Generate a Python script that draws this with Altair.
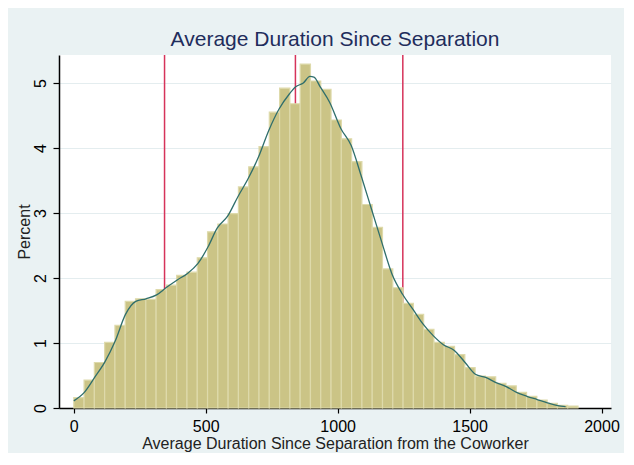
import altair as alt
import pandas as pd

# ---- data ----
bin_width = 39
bar_pct = [0.16, 0.43, 0.70, 1.01, 1.27, 1.64, 1.68, 1.67, 1.82, 1.89,
           2.04, 2.09, 2.31, 2.71, 2.83, 2.99, 3.40, 3.71, 4.02, 4.55,
           4.92, 4.68, 5.29, 5.03, 4.90, 4.43, 4.14, 3.79, 3.13, 2.78,
           2.14, 1.85, 1.61, 1.44, 1.21, 1.01, 0.95, 0.82, 0.62, 0.49,
           0.48, 0.38, 0.34, 0.24, 0.18, 0.12, 0.07, 0.04, 0.03]

kde_x = [0, 40, 79, 118, 157, 196, 235, 274, 314, 353, 392, 431, 470, 509,
         544, 583, 622, 661, 700, 739, 778, 817, 841, 870, 895, 910, 934, 970,
         1012, 1051, 1090, 1129, 1168, 1207, 1246, 1285, 1324, 1363, 1402,
         1441, 1483, 1522, 1561, 1600, 1639, 1678, 1717, 1756, 1795, 1834, 1864]
kde_y = [0.11, 0.24, 0.47, 0.71, 1.03, 1.44, 1.64, 1.68, 1.74, 1.86, 1.97, 2.07,
         2.22, 2.48, 2.77, 2.95, 3.25, 3.53, 3.86, 4.27, 4.60, 4.83, 4.94, 5.00,
         5.10, 5.09, 4.94, 4.70, 4.30, 4.04, 3.56, 3.05, 2.54, 2.05, 1.75, 1.52,
         1.29, 1.11, 0.97, 0.89, 0.70, 0.52, 0.47, 0.39, 0.33, 0.24, 0.18, 0.13,
         0.08, 0.035, 0.02]

ref_lines = [344, 840, 1247]

x_ticks = [0, 500, 1000, 1500, 2000]
y_ticks = [0, 1, 2, 3, 4, 5]

title_text = "Average Duration Since Separation"
x_title = "Average Duration Since Separation from the Coworker"
y_title = "Percent"

# ---- tables ----
bars = pd.DataFrame({
    "x0": [i * bin_width for i in range(len(bar_pct))],
    "x1": [(i + 1) * bin_width for i in range(len(bar_pct))],
    "pct": bar_pct,
})
kde = pd.DataFrame({"x": kde_x, "y": kde_y})
rules = pd.DataFrame({"x": ref_lines})

FONT = "Liberation Sans, Arial, sans-serif"
X_DOM = [-56, 2036]
Y_DOM = [0, 5.43]

xscale = alt.Scale(domain=X_DOM, nice=False, zero=False)
yscale = alt.Scale(domain=Y_DOM, nice=False)

xaxis = alt.Axis(values=x_ticks, title=x_title, grid=False, labelFlush=False,
                 format="d",
                 domainColor="black", domainWidth=1.5, tickColor="black",
                 tickWidth=1.2, tickSize=5, labelPadding=5, labelFontSize=16,
                 labelColor="black", labelFont=FONT, titleFont=FONT,
                 titleFontSize=16, titleFontWeight="normal", titleColor="#222222",
                 titleY=40, titleBaseline="alphabetic")
yaxis = alt.Axis(values=y_ticks, title=y_title, grid=True, gridColor="#e4edef",
                 format="d",
                 gridWidth=1, domainColor="black", domainWidth=1.5,
                 tickColor="black", tickWidth=1.2, tickSize=6, labelAngle=270,
                 labelAlign="center", labelBaseline="alphabetic", labelPadding=8,
                 labelFontSize=16, labelColor="black", labelFont=FONT,
                 titleFont=FONT, titleFontSize=16, titleFontWeight="normal",
                 titleColor="#222222", titleAngle=270, titleAlign="center",
                 titleBaseline="alphabetic", titleX=-30)

rule_layer = alt.Chart(rules).mark_rule(color="#d6335a", strokeWidth=1.5).encode(
    x=alt.X("x:Q", scale=xscale, axis=xaxis),
    y=alt.Y("y0:Q", scale=yscale, axis=yaxis),
    y2="y1:Q",
).transform_calculate(y0="0", y1=str(Y_DOM[1]))

bar_layer = alt.Chart(bars).mark_rect(
    color="#cbc486", stroke="#dedaab", strokeWidth=1.2
).encode(
    x=alt.X("x0:Q", scale=xscale, axis=xaxis),
    x2="x1:Q",
    y=alt.Y("pct:Q", scale=yscale, axis=yaxis),
    y2=alt.datum(0),
)

kde_layer = alt.Chart(kde).mark_line(
    color="#2f6e6c", strokeWidth=1.3, interpolate="monotone"
).encode(
    x=alt.X("x:Q", scale=xscale, axis=xaxis),
    y=alt.Y("y:Q", scale=yscale, axis=yaxis),
)

chart = alt.layer(rule_layer, bar_layer, kde_layer).properties(
    width=552,
    height=353,
    autosize="none",
    padding={"left": 51, "top": 47, "right": 13, "bottom": 45},
    background="#eaf2f3",
    title=alt.TitleParams(title_text, fontSize=21, font=FONT, color="#1f2d5c",
                          fontWeight="normal", anchor="middle", offset=10,
                          baseline="alphabetic", frame="group", dy=23),
).configure_view(fill="white", strokeWidth=0)

chart.save("out.html", embed_options={"renderer": "svg", "actions": False})
